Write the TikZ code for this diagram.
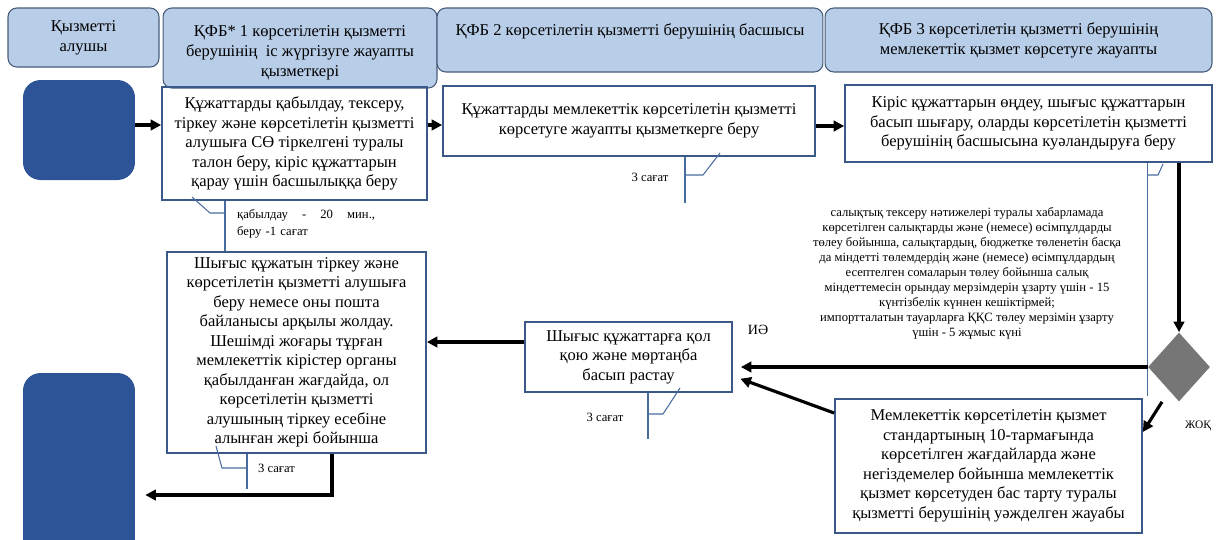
\documentclass[tikz,border=0pt]{standalone}
\usepackage{fontspec}
\setmainfont{Liberation Serif}
\usetikzlibrary{shapes.geometric,arrows.meta,positioning,calc}

\definecolor{headfill}{RGB}{184,205,232}
\definecolor{headline}{RGB}{70,92,122}
\definecolor{blobblue}{RGB}{45,84,150}
\definecolor{boxline}{RGB}{58,88,136}
\definecolor{tickline}{RGB}{72,108,158}
\definecolor{diagray}{RGB}{118,118,118}

\begin{document}
\begin{tikzpicture}[
    x=0.02cm, y=-0.02cm,
    head/.style={rectangle, draw=headline, fill=headfill, rounded corners=5pt, align=center, font=\fontsize{9.4}{11.3}\selectfont, line width=0.6pt},
    blob/.style={rectangle, fill=blobblue, rounded corners=10pt, minimum width=2.24cm},
    proc/.style={rectangle, draw=boxline, line width=1pt, align=center, font=\fontsize{9.4}{11.1}\selectfont, inner sep=2pt},
    note/.style={align=center, font=\fontsize{7.2}{8.5}\selectfont, inner sep=0pt},
    lbl/.style={font=\fontsize{7.2}{9.6}\selectfont, inner sep=1pt},
    arrow/.style={-{Triangle[length=6pt,width=6pt]}, line width=1.8pt},
    tick/.style={draw=tickline, line width=0.6pt}
]
    \useasboundingbox (0,0) rectangle (1227,539);

    % Headers
    \node[head, minimum width=3.02cm, minimum height=1.18cm] (h1) at (83.5,37.5) {Қызметті\\алушы};
    \node[head, minimum width=5.48cm, minimum height=1.6cm] (h2) at (300,48) {\rule{0pt}{12pt}ҚФБ* 1 көрсетілетін қызметті\\берушінің\ \ іс жүргізуге жауапты\\қызметкері};
    \node[head, minimum width=7.72cm, minimum height=1.28cm] (h3) at (630,40) {ҚФБ 2 көрсетілетін қызметті берушінің басшысы\\~};
    \node[head, minimum width=7.74cm, minimum height=1.28cm] (h4) at (1018.5,40) {ҚФБ 3 көрсетілетін қызметті берушінің\\мемлекеттік қызмет көрсетуге жауапты};

    % Start / finish
    \node[blob, minimum height=2cm] (start) at (79,130) {};
    \node[blob, minimum height=3.74cm] (finish) at (79,466.5) {};

    % Row 1
    \node[proc, minimum width=5.3cm, minimum height=2.26cm] (box1) at (294.5,143.5) {Құжаттарды қабылдау, тексеру,\\тіркеу және көрсетілетін қызметті\\алушыға СӨ тіркелгені туралы\\талон беру, кіріс құжаттарын\\қарау үшін басшылыққа беру};
    \node[proc, minimum width=7.44cm, minimum height=1.4cm] (box2) at (629,121) {Құжаттарды мемлекеттік көрсетілетін қызметті\\көрсетуге жауапты қызметкерге беру};
    \node[proc, minimum width=7.34cm, minimum height=1.54cm] (box3) at (1028.5,123.5) {Кіріс құжаттарын өңдеу, шығыс құжаттарын\\басып шығару, оларды көрсетілетін қызметті\\берушінің басшысына куәландыруға беру};

    % Decision
    \node[diamond, fill=diagray, minimum width=1.24cm, minimum height=1.38cm, inner sep=0pt] (dia) at (1179,367) {};
    \node[note] (cond) at (967,273.5) {салықтық тексеру нәтижелері туралы хабарламада\\көрсетілген салықтарды және (немесе) өсімпұлдарды\\төлеу бойынша, салықтардың, бюджетке төленетін басқа\\да міндетті төлемдердің және (немесе) өсімпұлдардың\\есептелген сомаларын төлеу бойынша салық\\міндеттемесін орындау мерзімдерін ұзарту үшін - 15\\күнтізбелік күннен кешіктірмей;\\импортталатын тауарларға ҚҚС төлеу мерзімін ұзарту\\үшін - 5 жұмыс күні};
    \node[lbl, font=\fontsize{8}{9}\selectfont] (yes) at (758,330) {ИӘ};
    \node[lbl, font=\fontsize{6.5}{8}\selectfont] (no) at (1198,426) {ЖОҚ};

    % Row 2
    \node[proc, minimum width=4.14cm, minimum height=1.4cm] (box5) at (628.5,357) {Шығыс құжаттарға қол\\қою және мөртаңба\\басып растау};
    \node[proc, minimum width=6.14cm, minimum height=2.68cm] (box6) at (988.5,466) {Мемлекеттік көрсетілетін қызмет\\стандартының 10-тармағында\\көрсетілген жағдайларда және\\негіздемелер бойынша мемлекеттік\\қызмет көрсетуден бас тарту туралы\\қызметті берушінің уәжделген жауабы};
    \node[proc, minimum width=5.18cm, minimum height=4.02cm] (box4) at (296.5,352.5) {Шығыс құжатын тіркеу және\\көрсетілетін қызметті алушыға\\беру немесе оны пошта\\байланысы арқылы жолдау.\\Шешімді жоғары тұрған\\мемлекеттік кірістер органы\\қабылданған жағдайда, ол\\көрсетілетін қызметті\\алушының тіркеу есебіне\\алынған жері бойынша};

    % Time notes
    \node[lbl, anchor=north west, text width=2.76cm, align=left] (t1) at (235,207) {қабылдау\hfill-\hfill 20\hfill мин.,\\беру -1 сағат};
    \node[lbl] (t2) at (650,177) {3 сағат};
    \node[lbl] (t5) at (605,417) {3 сағат};
    \node[lbl, anchor=west] (t4) at (256,468) {3 сағат};

    \draw[tick] (box1.south -| 225,0) -- (box4.north -| 225,0);
    \draw[tick] (225,213) -- (210,213) -- (192,197);
    \draw[tick] (box2.south -| 685,0) -- ++(0,46);
    \draw[tick] (685,175) -- (703,175) -- (720,153);
    \draw[tick] (box3.south -| dia.west) -- ++(0,233);
    \draw[tick] (1148,175) -- (1158,175) -- (1163,164);
    \draw[tick] (box5.south -| 648,0) -- ++(0,46);
    \draw[tick] (648,414) -- (663,414) -- (680,388);
    \draw[tick] (box4.south -| 247,0) -- ++(0,35);
    \draw[tick] (247,468) -- (222,468) -- (216,446);

    % Arrows
    \draw[arrow] (start.east |- 0,125) -- (box1.west |- 0,125);
    \draw[arrow] (box1.east |- 0,125) -- (box2.west |- 0,125);
    \draw[arrow] (box2.east |- 0,126) -- (box3.west |- 0,126);
    \draw[arrow] (dia.north |- box3.south) -- (dia.north);
    \draw[arrow, shorten >=0.16cm] (dia.west) -- (box5.east |- dia.west);
    \draw[arrow, shorten >=0.16cm] (box6.west |- 0,413) -- (box5.east |- 0,376);
    \draw[arrow] ($(dia.south)+(-17,0)$) -- (box6.east |- 0,432);
    \draw[arrow] (box5.west |- 0,342) -- (box4.east |- 0,342);
    \draw[arrow, shorten >=0.2cm] (box4.south -| 332,0) |- (finish.east |- 0,495);
\end{tikzpicture}
\end{document}
